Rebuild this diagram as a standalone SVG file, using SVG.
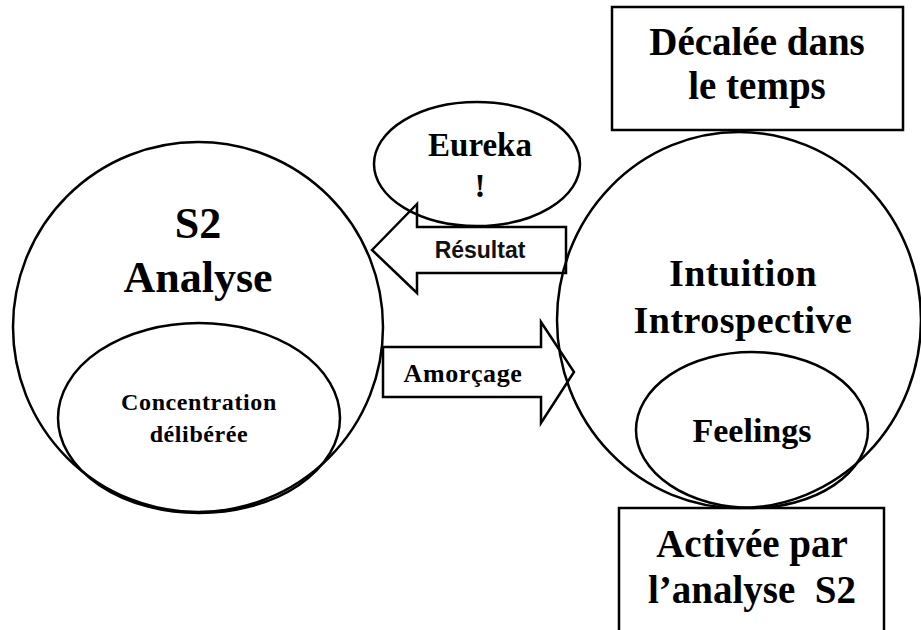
<svg xmlns="http://www.w3.org/2000/svg" width="921" height="630" viewBox="0 0 921 630">
  <style>
    .shape { fill: none; stroke: #000; stroke-width: 2.5; }
  </style>
  <rect width="921" height="630" fill="#fff"/>

  <g font-family="Liberation Serif, Times New Roman, serif" font-weight="bold" fill="#000" text-anchor="middle">
    <!-- S2 analysis circle with its inner ellipse -->
    <g id="s2-analyse">
      <circle class="shape" cx="198" cy="327" r="185"/>
      <text x="198" y="238" font-size="44">S2</text>
      <text x="198" y="292" font-size="44">Analyse</text>
    </g>
    <g id="concentration">
      <ellipse class="shape" cx="199" cy="418" rx="141" ry="95"/>
      <text x="199" y="410" font-size="24" letter-spacing="0.6">Concentration</text>
      <text x="199" y="442" font-size="24" letter-spacing="0.6">délibérée</text>
    </g>

    <!-- Intuition circle with its inner ellipse -->
    <g id="intuition">
      <ellipse class="shape" cx="739" cy="320" rx="182" ry="188"/>
      <text x="743" y="286" font-size="38" letter-spacing="0.5">Intuition</text>
      <text x="743" y="333" font-size="38" letter-spacing="0.5">Introspective</text>
    </g>
    <g id="feelings">
      <ellipse class="shape" cx="752" cy="430" rx="116" ry="78"/>
      <text x="752" y="442" font-size="34">Feelings</text>
    </g>

    <!-- Eureka bubble -->
    <g id="eureka">
      <ellipse class="shape" cx="477" cy="164" rx="103" ry="62"/>
      <text x="480" y="156" font-size="33">Eureka</text>
      <text x="480" y="197" font-size="33">!</text>
    </g>

    <!-- Boxes -->
    <g id="decalee">
      <rect class="shape" x="612" y="7" width="291" height="123"/>
      <text x="757" y="55" font-size="39">Décalée dans</text>
      <text x="757" y="99" font-size="39">le temps</text>
    </g>
    <g id="activee">
      <rect class="shape" x="619" y="508" width="265" height="130"/>
      <text x="752" y="557" font-size="39">Activée par</text>
      <text x="752" y="603" font-size="39" xml:space="preserve">l’analyse  S2</text>
    </g>

    <!-- Block arrows between the two systems -->
    <g id="connectors">
      <g id="resultat">
        <polygon class="shape" points="372,250 417,204 417,227 566,227 566,273 417,273 417,293"/>
        <text x="480" y="258" font-size="23" font-family="Liberation Sans, Arial, sans-serif" fill="#111">Résultat</text>
      </g>
      <g id="amorcage">
        <polygon class="shape" points="383,347 541,347 541,322 574,372 541,423 541,397 383,397"/>
        <text x="463" y="382" font-size="26" letter-spacing="0.6">Amorçage</text>
      </g>
    </g>
  </g>
</svg>
